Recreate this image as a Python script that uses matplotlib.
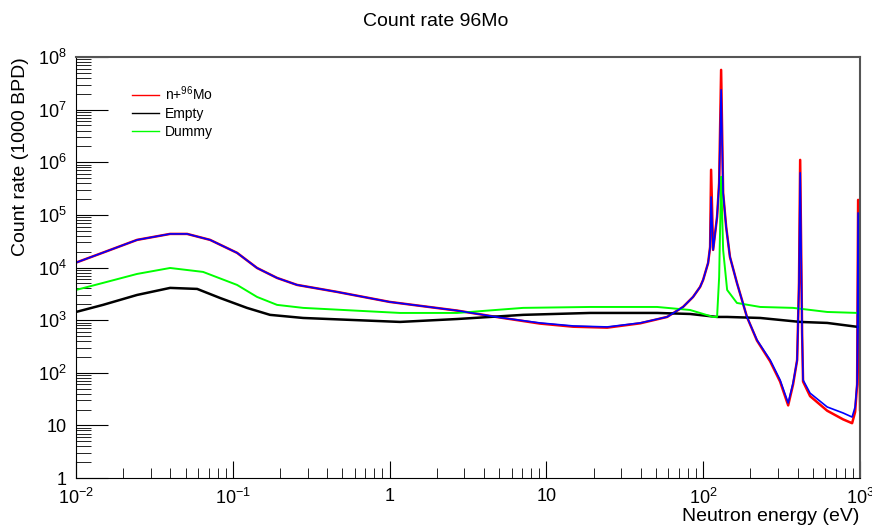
import numpy as np
import matplotlib
matplotlib.use('Agg')
import matplotlib.pyplot as plt

plt.rcParams['font.family'] = ['Liberation Sans', 'DejaVu Sans']
plt.rcParams['mathtext.fontset'] = 'custom'
plt.rcParams['mathtext.rm'] = 'Liberation Sans'
plt.rcParams['mathtext.it'] = 'Liberation Sans:italic'

## n+96Mo (red = raw, blue drawn on top)
energy_mo = [0.01, 0.01486, 0.0245, 0.0398, 0.0511, 0.0716, 0.1064, 0.1427, 0.1914, 0.2567,
             0.462, 1.0, 2.69, 5.06, 9.1, 14.8, 24.4, 39.6, 58.8, 74.3,
             86.1, 95.5, 99.8, 107.4, 110.6, 112.2, 115.6, 122.5, 126.3, 130,
             133.9, 140, 148, 164, 190, 220, 267, 309, 348, 374,
             397, 408, 415, 427, 433, 480, 617, 780, 890, 930,
             958, 972, 1000]
count_blue = [1.24e4, 1.92e4, 3.35e4, 4.35e4, 4.35e4, 3.35e4, 1.9e4, 9.8e3, 6.34e3, 4.67e3,
              3.44e3, 2.22e3, 1.52e3, 1.12e3, 885, 776, 743, 885, 1.15e3, 1.78e3,
              2.76e3, 4.28e3, 5.81e3, 1.22e4, 2.46e4, 2.2e5, 2.16e4, 9.2e4, 4.06e5, 2.38e7,
              2.62e5, 5.9e4, 1.59e4, 5.1e3, 1.15e3, 420, 175, 73, 26.7, 64,
              175, 5.1e3, 6.3e5, 571, 73, 41, 22.4, 17.2, 14.4, 22.4,
              64, 1.09e5, 19.6]
count_red = [1.24e4, 1.92e4, 3.35e4, 4.35e4, 4.35e4, 3.35e4, 1.9e4, 9.8e3, 6.34e3, 4.67e3,
             3.44e3, 2.22e3, 1.52e3, 1.12e3, 860, 750, 720, 870, 1.15e3, 1.78e3,
             2.76e3, 4.28e3, 5.81e3, 1.22e4, 2.46e4, 7.2e5, 2.16e4, 9.2e4, 4.06e5, 5.7e7,
             2.62e5, 5.9e4, 1.59e4, 5.1e3, 1.15e3, 410, 165, 68, 24, 60,
             175, 5.1e3, 1.11e6, 571, 68, 36, 19, 13, 11, 18,
             60, 1.93e5, 19.6]

## Empty
energy_empty = [0.01, 0.01486, 0.0245, 0.0398, 0.0592, 0.0828, 0.123, 0.1726, 0.2806, 1.165,
                2.69, 7.1, 19.0, 50.8, 82.4, 122.5, 142, 231, 415, 617,
                972, 1000]
count_empty = [1.43e3, 1.95e3, 3.01e3, 4.1e3, 3.92e3, 2.64e3, 1.71e3, 1.26e3, 1.1e3, 925,
               1.05e3, 1.26e3, 1.37e3, 1.37e3, 1.31e3, 1.15e3, 1.15e3, 1.1e3, 925, 885,
               743, 740]

## Dummy
energy_dummy = [0.01, 0.01, 0.01486, 0.0245, 0.0398, 0.0646, 0.1064, 0.1427, 0.1914, 0.2806,
                1.165, 2.69, 7.1, 19.0, 50.8, 82.4, 115.6, 122.5, 126.3, 130,
                133.9, 142, 164, 231, 374, 617, 972, 1000, 1000]
count_dummy = [0.5, 3.75e3, 5.1e3, 7.55e3, 9.8e3, 8.25e3, 4.67e3, 2.76e3, 1.95e3, 1.71e3,
               1.37e3, 1.37e3, 1.71e3, 1.78e3, 1.78e3, 1.56e3, 1.15e3, 1.15e3, 6.6e3, 5.3e5,
               2.16e4, 3.75e3, 2.12e3, 1.78e3, 1.71e3, 1.43e3, 1.37e3, 1.37e3, 0.5]

x_ticks = [1e-2, 1e-1, 1, 10, 1e2, 1e3]
x_tick_labels = ['$10^{-2}$', '$10^{-1}$', '1', '10', '$10^{2}$', '$10^{3}$']
y_ticks = [1, 10, 1e2, 1e3, 1e4, 1e5, 1e6, 1e7, 1e8]
y_tick_labels = ['1', '10', '$10^{2}$', '$10^{3}$', '$10^{4}$', '$10^{5}$', '$10^{6}$', '$10^{7}$', '$10^{8}$']

##
fig = plt.figure(figsize=(8.72, 5.30), dpi=100)
ax = fig.add_axes([0.0872, 0.0981, 0.8991, 0.7943])

ax.plot(energy_mo, count_red, color='#ff0000', lw=1.8, label='n+$^{96}$Mo')
ax.plot(energy_empty, count_empty, color='black', lw=1.8, label='Empty')
ax.plot(energy_dummy, count_dummy, color='#00ff00', lw=1.4, label='Dummy')
ax.plot(energy_mo, count_blue, color='#0000ff', lw=1.2, label='_nolegend_')

ax.set_xscale('log')
ax.set_yscale('log')
ax.set_xlim(1e-2, 1e3)
ax.set_ylim(1, 1e8)

ax.set_xticks(x_ticks)
ax.set_xticklabels(x_tick_labels)
ax.set_yticks(y_ticks)
ax.set_yticklabels(y_tick_labels)
ax.tick_params(axis='both', which='both', direction='in', labelsize=13, top=False, right=False)
ax.tick_params(axis='x', which='major', length=12, pad=7)
ax.tick_params(axis='x', which='minor', length=7)
ax.tick_params(axis='y', which='major', length=23, pad=7)
ax.tick_params(axis='y', which='minor', length=11)

for s in ['top', 'right']:
    ax.spines[s].set_color('#555555')
    ax.spines[s].set_linewidth(1.5)

fig.text(0.5, 0.960, 'Count rate 96Mo', ha='center', va='center', fontsize=14)
fig.text(0.986, 0.025, 'Neutron energy (eV)', ha='right', va='center', fontsize=14)
fig.text(0.024, 0.892, 'Count rate (1000 BPD)', ha='center', va='top', rotation=90, fontsize=14)

leg = ax.legend(loc='upper left', bbox_to_anchor=(0.055, 0.965), frameon=False, fontsize=10,
                handlelength=2.0, labelspacing=0.3, handletextpad=0.4)
for h in leg.get_lines():
    h.set_linewidth(1.0)

plt.savefig('out.png', dpi=100)
